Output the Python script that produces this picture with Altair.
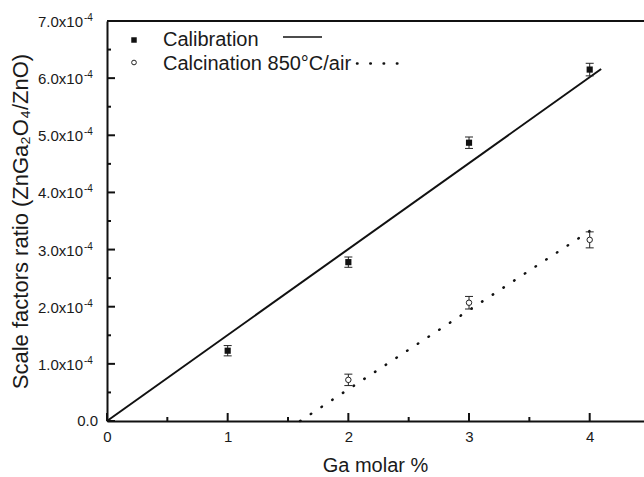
import altair as alt
import pandas as pd

# ---------------- data ----------------
ga_cal = [1, 2, 3, 4]
ratio_cal = [1.23e-4, 2.78e-4, 4.87e-4, 6.15e-4]
err_cal = [0.09e-4, 0.09e-4, 0.10e-4, 0.11e-4]

ga_calc = [2, 3, 4]
ratio_calc = [0.72e-4, 2.07e-4, 3.17e-4]
err_calc = [0.10e-4, 0.11e-4, 0.14e-4]

fit_cal_x = [0.0, 4.095]
fit_cal_y = [0.0, 6.16e-4]
fit_calc_x = [1.6, 4.04]
fit_calc_y = [0.0, 3.38e-4]

x_major = [0, 1, 2, 3, 4]
x_minor = [0.5, 1.5, 2.5, 3.5]
y_major = [0.0, 1e-4, 2e-4, 3e-4, 4e-4, 5e-4, 6e-4, 7e-4]
y_minor = [0.5e-4, 1.5e-4, 2.5e-4, 3.5e-4, 4.5e-4, 5.5e-4, 6.5e-4]
y_main_labels = ["0.0", "1.0x10", "2.0x10", "3.0x10", "4.0x10", "5.0x10", "6.0x10", "7.0x10"]
y_sup_labels = ["", "-4", "-4", "-4", "-4", "-4", "-4", "-4"]

legend_names = ["Calibration", "Calcination 850°C/air"]

X_DOMAIN = [0, 4.45]
Y_DOMAIN = [0, 7e-4]
W, H = 537, 400
FONT = "Liberation Sans"
INK = "#1a1a1a"
AX = "#111"
TICK_COLOR = "#111"
FS_TITLE = 20
FS_LEG = 20
FS_TICK = 15

MAJ_PX, MIN_PX = 8, 4
XU = (X_DOMAIN[1] - X_DOMAIN[0]) / W
YU = (Y_DOMAIN[1] - Y_DOMAIN[0]) / H

cal = pd.DataFrame({"x": ga_cal, "y": ratio_cal,
                    "lo": [v - e for v, e in zip(ratio_cal, err_cal)],
                    "hi": [v + e for v, e in zip(ratio_cal, err_cal)]})
calc = pd.DataFrame({"x": ga_calc, "y": ratio_calc,
                     "lo": [v - e for v, e in zip(ratio_calc, err_calc)],
                     "hi": [v + e for v, e in zip(ratio_calc, err_calc)]})
fit_cal = pd.DataFrame({"x": fit_cal_x, "y": fit_cal_y})
fit_calc = pd.DataFrame({"x": fit_calc_x, "y": fit_calc_y})
ylabels = pd.DataFrame({"y": y_major, "main": y_main_labels, "sup": y_sup_labels})

xticks = pd.DataFrame({
    "x": [float(v) for v in x_major + x_minor],
    "lo": [0.0] * (len(x_major) + len(x_minor)),
    "hi": [MAJ_PX * YU] * len(x_major) + [MIN_PX * YU] * len(x_minor),
})
yticks = pd.DataFrame({
    "y": [float(v) for v in y_major + y_minor],
    "lo": [0.0] * (len(y_major) + len(y_minor)),
    "hi": [MAJ_PX * XU] * len(y_major) + [MIN_PX * XU] * len(y_minor),
})

XS = alt.Scale(domain=X_DOMAIN, nice=False, zero=False)
YS = alt.Scale(domain=Y_DOMAIN, nice=False, zero=False)

x_axis = alt.Axis(values=x_major, format="d", ticks=False, grid=False,
                  labelFontSize=FS_TICK, labelPadding=8, labelColor=INK, labelFont=FONT,
                  labelFlush=False,
                  domainColor=AX, domainWidth=2,
                  title="Ga molar %", titleFontSize=FS_TITLE, titleFontWeight="normal",
                  titleFont=FONT, titleColor=INK,
                  titleX=268, titleY=50, titleBaseline="alphabetic", titleAlign="center")
y_axis = alt.Axis(labels=False, ticks=False, grid=False,
                  domainColor=AX, domainWidth=2,
                  title="Scale factors ratio (ZnGa₂O₄/ZnO)", titleFontSize=22,
                  titleFontWeight="normal", titleFont=FONT, titleColor=INK,
                  titleAngle=270, titleX=-80, titleY=200,
                  titleBaseline="alphabetic", titleAlign="center")


def X(field="x"):
    return alt.X(f"{field}:Q", scale=XS, axis=x_axis)


def Y(field="y"):
    return alt.Y(f"{field}:Q", scale=YS, axis=y_axis)


top_line = alt.Chart(xticks.head(1)).mark_rule(color=AX, strokeWidth=2).encode(
    x=alt.value(0), x2=alt.value(W), y=alt.value(0))

# inward ticks (same construction as the error bars)
xt = alt.Chart(xticks).mark_rule(color=TICK_COLOR, strokeWidth=2).encode(
    x=X("x"), y=Y("lo"), y2="hi:Q")
yt = alt.Chart(yticks).mark_rule(color=TICK_COLOR, strokeWidth=2).encode(
    y=Y("y"), x=X("lo"), x2="hi:Q")

ylab_main = alt.Chart(ylabels[ylabels["sup"] != ""]).mark_text(
    align="right", baseline="alphabetic", dy=6, fontSize=FS_TICK, font=FONT, color=INK).encode(
    y=Y(), x=alt.value(-24), text="main:N")
ylab_zero = alt.Chart(ylabels[ylabels["sup"] == ""]).mark_text(
    align="right", baseline="alphabetic", dy=5, fontSize=FS_TICK, font=FONT, color=INK).encode(
    y=Y(), x=alt.value(-9), text="main:N")
ylab_sup = alt.Chart(ylabels[ylabels["sup"] != ""]).mark_text(
    align="left", baseline="alphabetic", dy=0, fontSize=10, font=FONT, color=INK).encode(
    y=Y(), x=alt.value(-23), text="sup:N")

line_cal = alt.Chart(fit_cal).mark_line(color=AX, strokeWidth=2).encode(x=X(), y=Y())
line_calc = alt.Chart(fit_calc).mark_line(color=AX, strokeWidth=2.5, strokeCap="round",
                                          strokeDash=[0.5, 12.3]).encode(x=X(), y=Y())


def errbars(df):
    rule = alt.Chart(df).mark_rule(color="#222", strokeWidth=1).encode(x=X(), y=Y("lo"), y2="hi:Q")
    cap_lo = alt.Chart(df).mark_tick(orient="horizontal", size=8, thickness=1, color="#222", opacity=1).encode(
        x=X(), y=Y("lo"))
    cap_hi = alt.Chart(df).mark_tick(orient="horizontal", size=8, thickness=1, color="#222", opacity=1).encode(
        x=X(), y=Y("hi"))
    return [rule, cap_lo, cap_hi]


pts_cal = alt.Chart(cal).mark_point(shape="square", filled=True, size=38, color=AX, opacity=1).encode(
    x=X(), y=Y())
pts_calc = alt.Chart(calc).mark_point(shape="circle", filled=True, size=30, fill="white",
                                      stroke="#222", strokeWidth=1, opacity=1).encode(x=X(), y=Y())

leg = pd.DataFrame({"name": legend_names})
leg_sq = alt.Chart(leg.head(1)).mark_point(shape="square", filled=True, size=30, color=AX, opacity=1).encode(
    x=alt.value(27), y=alt.value(19))
leg_t1 = alt.Chart(leg.head(1)).mark_text(align="left", baseline="alphabetic", fontSize=FS_LEG,
                                          font=FONT, color=INK).encode(
    x=alt.value(56), y=alt.value(25), text="name:N")
leg_l1 = alt.Chart(leg.head(1)).mark_rule(color=AX, strokeWidth=1.6).encode(
    x=alt.value(176), x2=alt.value(215), y=alt.value(16))
leg_ci = alt.Chart(leg.tail(1)).mark_point(shape="circle", filled=True, size=22, fill="white",
                                           stroke="#222", strokeWidth=1, opacity=1).encode(
    x=alt.value(27), y=alt.value(41.5))
leg_t2 = alt.Chart(leg.tail(1)).mark_text(align="left", baseline="alphabetic", fontSize=FS_LEG,
                                          font=FONT, color=INK).encode(
    x=alt.value(56), y=alt.value(49), text="name:N")
leg_l2 = alt.Chart(leg.tail(1)).mark_rule(color=AX, strokeWidth=2.5, strokeCap="round",
                                          strokeDash=[0.5, 12.8]).encode(
    x=alt.value(250), x2=alt.value(291), y=alt.value(42.5))

layers = [top_line, ylab_main, ylab_zero, ylab_sup, line_cal, line_calc]
layers += errbars(cal) + errbars(calc)
layers += [xt, yt]
layers += [pts_cal, pts_calc, leg_sq, leg_t1, leg_l1, leg_ci, leg_t2, leg_l2]

chart = alt.layer(*layers).properties(
    width=W, height=H,
    autosize=alt.AutoSizeParams(type="none"),
    padding={"left": 107, "top": 21, "right": 0, "bottom": 56},
    background="white",
).configure_view(stroke=None).configure(font=FONT)

chart.save("out.html", embed_options={"renderer": "svg", "actions": False})
